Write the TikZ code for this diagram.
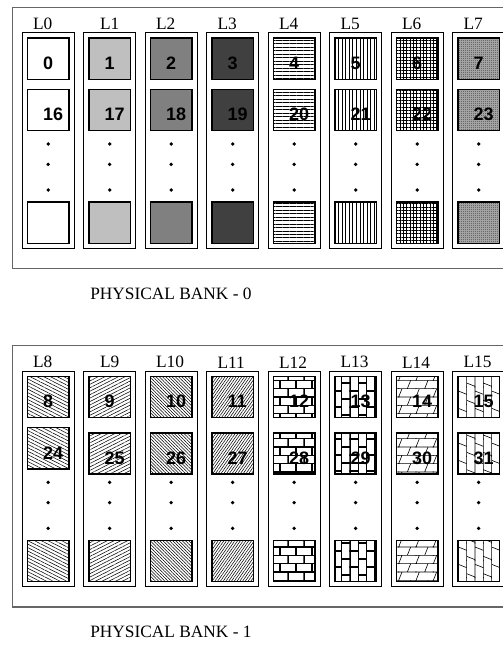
\documentclass[tikz,border=0pt]{standalone}
\usepackage{fontspec}
\setmainfont{Liberation Serif}
\newfontfamily\numfont{Liberation Sans}
\usetikzlibrary{patterns,patterns.meta}

% brick and joint fillings
\pgfdeclarepatternformonly{hbricks}{\pgfqpoint{-0.5pt}{-0.5pt}}{\pgfqpoint{12.5pt}{13pt}}{\pgfqpoint{12pt}{12.5pt}}{%
  \pgfsetlinewidth{0.8pt}%
  \pgfpathmoveto{\pgfqpoint{-0.5pt}{0pt}}\pgfpathlineto{\pgfqpoint{12.5pt}{0pt}}%
  \pgfpathmoveto{\pgfqpoint{-0.5pt}{6.25pt}}\pgfpathlineto{\pgfqpoint{12.5pt}{6.25pt}}%
  \pgfpathmoveto{\pgfqpoint{0pt}{0pt}}\pgfpathlineto{\pgfqpoint{0pt}{6.25pt}}%
  \pgfpathmoveto{\pgfqpoint{6pt}{6.25pt}}\pgfpathlineto{\pgfqpoint{6pt}{12.5pt}}%
  \pgfusepath{stroke}}
\pgfdeclarepatternformonly{vbricks}{\pgfqpoint{-0.5pt}{-0.5pt}}{\pgfqpoint{13pt}{12.5pt}}{\pgfqpoint{12.5pt}{12pt}}{%
  \pgfsetlinewidth{0.8pt}%
  \pgfpathmoveto{\pgfqpoint{0pt}{-0.5pt}}\pgfpathlineto{\pgfqpoint{0pt}{12.5pt}}%
  \pgfpathmoveto{\pgfqpoint{6.25pt}{-0.5pt}}\pgfpathlineto{\pgfqpoint{6.25pt}{12.5pt}}%
  \pgfpathmoveto{\pgfqpoint{0pt}{0pt}}\pgfpathlineto{\pgfqpoint{6.25pt}{0pt}}%
  \pgfpathmoveto{\pgfqpoint{6.25pt}{6pt}}\pgfpathlineto{\pgfqpoint{12.5pt}{6pt}}%
  \pgfusepath{stroke}}
\pgfdeclarepatternformonly{hslant}{\pgfqpoint{-0.5pt}{-0.5pt}}{\pgfqpoint{13.5pt}{13pt}}{\pgfqpoint{13pt}{12.5pt}}{%
  \pgfsetlinewidth{0.45pt}%
  \pgfpathmoveto{\pgfqpoint{-0.5pt}{0pt}}\pgfpathlineto{\pgfqpoint{13.5pt}{0pt}}%
  \pgfpathmoveto{\pgfqpoint{-0.5pt}{6.25pt}}\pgfpathlineto{\pgfqpoint{13.5pt}{6.25pt}}%
  \pgfpathmoveto{\pgfqpoint{0pt}{0pt}}\pgfpathlineto{\pgfqpoint{2.5pt}{6.25pt}}%
  \pgfpathmoveto{\pgfqpoint{6.5pt}{6.25pt}}\pgfpathlineto{\pgfqpoint{9pt}{12.5pt}}%
  \pgfusepath{stroke}}
\pgfdeclarepatternformonly{vslant}{\pgfqpoint{-0.5pt}{-0.5pt}}{\pgfqpoint{13pt}{13.5pt}}{\pgfqpoint{12.5pt}{13pt}}{%
  \pgfsetlinewidth{0.45pt}%
  \pgfpathmoveto{\pgfqpoint{0pt}{-0.5pt}}\pgfpathlineto{\pgfqpoint{0pt}{13.5pt}}%
  \pgfpathmoveto{\pgfqpoint{6.25pt}{-0.5pt}}\pgfpathlineto{\pgfqpoint{6.25pt}{13.5pt}}%
  \pgfpathmoveto{\pgfqpoint{0pt}{3pt}}\pgfpathlineto{\pgfqpoint{6.25pt}{0.5pt}}%
  \pgfpathmoveto{\pgfqpoint{6.25pt}{10pt}}\pgfpathlineto{\pgfqpoint{12.5pt}{7.5pt}}%
  \pgfusepath{stroke}}
\pgfdeclarepatternformonly{dither}{\pgfpointorigin}{\pgfqpoint{1.2pt}{1.2pt}}{\pgfqpoint{1.2pt}{1.2pt}}{%
  \pgfpathrectangle{\pgfpointorigin}{\pgfqpoint{0.6pt}{0.6pt}}%
  \pgfpathrectangle{\pgfqpoint{0.6pt}{0.6pt}}{\pgfqpoint{0.6pt}{0.6pt}}%
  \pgfusepath{fill}}

\tikzset{
  bankframe/.style={draw=black!60,line width=1pt},
  lanebox/.style={draw=black,line width=0.6pt},
  cell/.style={draw=black,line width=1.1pt},
  lanelabel/.style={anchor=west,inner sep=0pt,font=\fontsize{13}{15}\selectfont},
  cellnum/.style={anchor=west,inner sep=0pt,font=\numfont\bfseries\fontsize{13.5}{15}\selectfont},
  banklabel/.style={anchor=west,inner sep=0pt,font=\fontsize{13}{15}\selectfont},
  % one filling per lane
  lane0/.style={fill=white},
  lane1/.style={fill=black!25},
  lane2/.style={fill=black!50},
  lane3/.style={fill=black!75},
  lane4/.style={pattern={Lines[angle=0,distance=2.6pt,line width=0.7pt]}},
  lane5/.style={pattern={Lines[angle=90,distance=2.7pt,line width=0.7pt]}},
  lane6/.style={pattern={Hatch[angle=0,distance=2.5pt,line width=0.55pt]}},
  lane7/.style={preaction={fill=black!30},pattern=dither,pattern color=black!75},
  lane8/.style={pattern={Lines[angle=-27,distance=2.3pt,line width=0.4pt]}},
  lane9/.style={pattern={Lines[angle=27,distance=2.3pt,line width=0.4pt]}},
  lane10/.style={pattern={Lines[angle=-45,distance=1.7pt,line width=0.4pt]}},
  lane11/.style={pattern={Lines[angle=55,distance=1.7pt,line width=0.4pt]}},
  lane12/.style={pattern=hbricks},
  lane13/.style={pattern=vbricks},
  lane14/.style={pattern=hslant},
  lane15/.style={pattern=vslant},
}

\begin{document}
\begin{tikzpicture}[x=0.75pt,y=-0.75pt]
  \useasboundingbox (0,0) rectangle (503,647);
  \clip (0,0) rectangle (503,647);
  \foreach \b in {0,1} {
    \pgfmathsetmacro\dy{338.3*\b}
    % bank frame and caption
    \draw[bankframe] (12.3,7.5+\dy) rectangle (520,268.7+\dy);
    \node[banklabel] (bank\b) at (90,294+\dy) {PHYSICAL BANK - \b};
    \foreach \i in {0,...,7} {
      \pgfmathtruncatemacro\lane{8*\b+\i}
      \pgfmathtruncatemacro\nxt{\lane+16}
      \pgfmathsetmacro\cx{22.3+61.5*\i}
      \pgfmathsetmacro\lx{\cx+10.5+(\i==1)*5.5}
      \pgfmathsetmacro\ty{89.3+(\b==1)*(\i>0)*5.3}
      % lane box with its label
      \draw[lanebox] (\cx,32.7+\dy) rectangle ++(51.7,215.6);
      \node[lanelabel] (lab\lane) at (\lx,24+\dy) {L\lane};
      % three cells
      \foreach \t in {38,\ty,202}
        \draw[cell,lane\lane] (\cx+5,\t+\dy) rectangle ++(41.7,41.3);
      \node[cellnum] (num\lane) at (\cx+20.5,63+\dy) {\lane};
      \node[cellnum] (num\nxt) at (\cx+20.5,\ty+25.2+\dy) {\nxt};
      % dots
      \foreach \d in {144,164.3,190}
        \fill (\cx+25.85,\d+\dy) circle (1.4pt);
    }
  }
\end{tikzpicture}
\end{document}
